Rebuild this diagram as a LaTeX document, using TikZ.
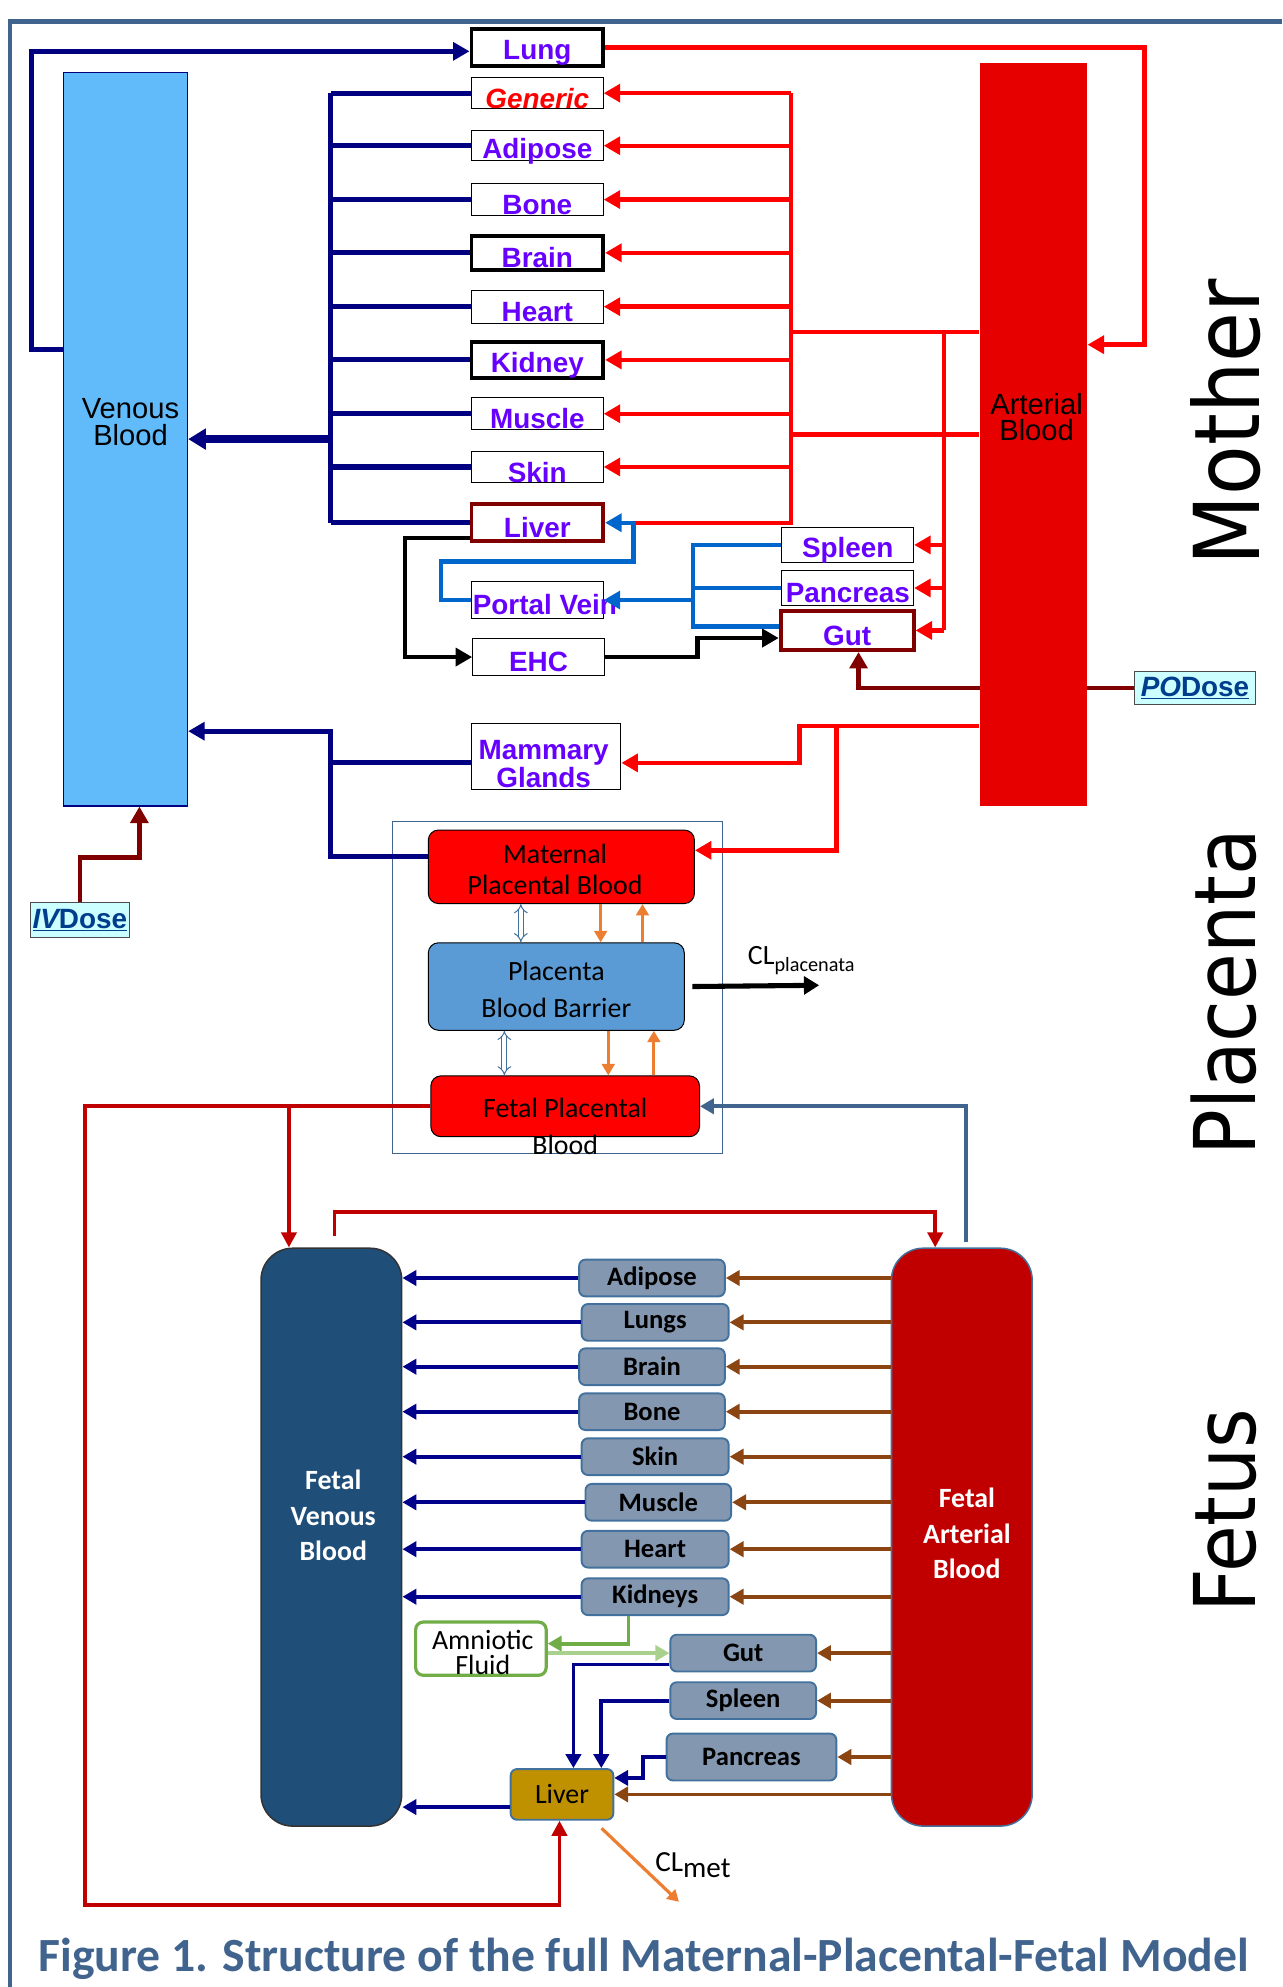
\documentclass[tikz,border=0pt]{standalone}
\usepackage{fontspec}
\setmainfont{Liberation Sans}
\newfontfamily\calibri{Carlito}
\newfontfamily\verdana{DejaVu Sans}
\usepackage{graphicx}
\usetikzlibrary{arrows.meta}
\usetikzlibrary{positioning}
\usetikzlibrary{backgrounds}
\definecolor{orgviolet}{RGB}{102,0,255}
\definecolor{veinblue}{RGB}{0,0,128}
\definecolor{artred}{RGB}{255,0,0}
\definecolor{artbox}{RGB}{230,0,0}
\definecolor{venbox}{RGB}{97,187,250}
\definecolor{portblue}{RGB}{0,102,204}
\definecolor{dosered}{RGB}{128,0,0}
\definecolor{dosecyan}{RGB}{204,255,255}
\definecolor{dosetext}{RGB}{0,61,140}
\definecolor{steel}{RGB}{65,100,143}
\definecolor{placred}{RGB}{255,0,0}
\definecolor{placblue}{RGB}{91,155,213}
\definecolor{flowor}{RGB}{237,125,49}
\definecolor{fvenous}{RGB}{31,78,121}
\definecolor{fartred}{RGB}{192,0,0}
\definecolor{fgray}{RGB}{132,151,176}
\definecolor{fborder}{RGB}{65,113,156}
\definecolor{fgold}{RGB}{191,144,0}
\definecolor{fnavy}{RGB}{0,0,139}
\definecolor{fbrown}{RGB}{139,69,19}
\definecolor{amgreen}{RGB}{112,173,71}
\definecolor{amlight}{RGB}{169,209,142}
% mother organ box: [options]{name}{position}{height}{text}
\newcommand\morgan[5][]{%
  \node[mnode,minimum height=#4pt,#1] (#2) at (#3) {\raisebox{-4pt}[\height][\depth]{#5}};
}
% fetal organ box: [options]{name}{position}{width}{text}
\newcommand\forgan[5][]{%
  \node[fnode,minimum width=#4pt,#1] (#2) at (#3) {#5};
}
% clearance label: {main}{lowered part}{size of lowered part}
\newcommand\cltext[3]{#1\raisebox{-5pt}{\fontsize{#3}{#3}\selectfont #2}}
\begin{document}
\begin{tikzpicture}[
x=1pt,y=-1pt,
>={Triangle[length=13pt,width=14pt]},
mnode/.style={draw=black,line width=0.8pt,fill=white,inner sep=0pt,
  minimum width=104pt,text=orgviolet,font=\bfseries\fontsize{22}{22}\selectfont},
heavy/.style={line width=3pt},
vein/.style={draw=veinblue,line width=4pt},
art/.style={draw=artred,line width=3.5pt},
portline/.style={draw=portblue,line width=3.5pt},
ehcline/.style={draw=black,line width=3.5pt},
doseline/.style={draw=dosered,line width=3.5pt},
dose/.style={draw=black!70,line width=0.8pt,fill=dosecyan,inner sep=0pt,
  text=dosetext,font=\bfseries\fontsize{22}{22}\selectfont},
pool/.style={inner sep=0pt,font=\fontsize{23}{21}\selectfont,align=center},
plac/.style={draw=black,line width=0.8pt,rounded corners=8pt,inner sep=0pt},
plactext/.style={inner sep=0pt,align=center,font=\calibri\fontsize{22}{24}\selectfont},
hollow/.style={draw=fborder,line width=0.8pt,double=white,double distance=3pt,
  {Implies[length=6pt]}-{Implies[length=6pt]}},
flow/.style={draw=flowor,line width=2.5pt,>={Triangle[length=9pt,width=10pt]}},
fnode/.style={draw=fborder,line width=1.5pt,fill=fgray,rounded corners=5pt,
  inner sep=0pt,minimum height=29pt,font=\calibri\bfseries\fontsize{21}{21}\selectfont},
fpool/.style={line width=1.2pt,rounded corners=25pt,minimum width=111pt,minimum height=456pt},
ftext/.style={inner sep=0pt,align=center,text=white,font=\calibri\bfseries\fontsize{22}{28}\selectfont},
fvein/.style={draw=fnavy,line width=3pt,>={Triangle[length=11pt,width=12pt]}},
fart/.style={draw=fbrown,line width=3pt,>={Triangle[length=11pt,width=12pt]}},
fred/.style={draw=fartred,line width=3pt,>={Triangle[length=12pt,width=12pt]}},
amline/.style={draw=amgreen,line width=3pt,>={Triangle[length=11pt,width=12pt]}},
cl/.style={inner sep=0pt,font=\calibri\fontsize{22}{22}\selectfont},
side/.style={inner sep=0pt,font=\verdana\fontsize{60}{60}\selectfont}
]
\useasboundingbox (0,0) rectangle (1012,1568);
\draw[steel,line width=3.5pt] (8,1568) -- (8,17) -- (1012,17);

% blood pools of the mother
\node[draw=veinblue,line width=1pt,fill=venbox,minimum width=98pt,minimum height=579pt] (venous) at (99,346.5) {};
\node[pool] (ventxt) at (103,333) {Venous\\Blood};
\node[fill=artbox,minimum width=85pt,minimum height=586pt] (arterial) at (815.5,343) {};
\node[pool] (arttxt) at (818,329) {Arterial\\Blood};

% mother organs
\morgan[heavy]{lung}{424,37.5}{29}{Lung}
\morgan[text=artred]{generic}{424,73.5}{25}{\itshape Generic}
\morgan{adipose}{424,115}{24}{Adipose}
\morgan{bone}{424,157.5}{25}{Bone}
\morgan[heavy]{brain}{424,199.5}{27}{Brain}
\morgan{heart}{424,242}{26}{Heart}
\morgan[heavy]{kidney}{424,284}{28}{Kidney}
\morgan{muscle}{424,326.5}{25}{Muscle}
\morgan{skin}{424,368.5}{25}{Skin}
\morgan[heavy,draw=dosered]{liver}{424,412.5}{29}{Liver}
\morgan{spleen}{669,430}{28}{Spleen}
\morgan{pancreas}{669,464}{28}{Pancreas}
\morgan[heavy,draw=dosered,minimum width=105pt]{gut}{668.5,497.5}{31}{Gut}
\morgan{portal}{424,473.5}{29}{}
\node[mnode,draw=none,fill=none,minimum width=0pt] (portaltxt) at (430,477) {Portal Vein};
\morgan{ehc}{425,518.5}{29}{EHC}
\node[mnode,minimum width=118pt,minimum height=52pt] (mammary) at (431,597) {};
\node[mnode,draw=none,fill=none,minimum width=0pt,align=center,font=\bfseries\fontsize{22}{20}\selectfont] (mamtxt) at (429,603) {Mammary\\Glands};

\node[dose,minimum width=96pt,minimum height=26pt] (podose) at (943,543) {\underline{\itshape PO}\underline{Dose}};
\node[dose,minimum width=78pt,minimum height=28pt] (ivdose) at (63,726) {\underline{\itshape IV}\underline{Dose}};

\coordinate (vspine) at (261,0);
\coordinate (rspine) at (624,0);
\coordinate (pvbus) at (547,0);
\coordinate (mamv) at (261,577);

% venous return
\foreach \o in {generic,adipose,bone,brain,heart,kidney,muscle,skin,liver}
  \draw[vein] (\o.west) -- (\o.west -| vspine);
\draw[vein] (generic.west -| vspine) -- (liver.west -| vspine);
\draw[vein,line width=6pt,->,>={Triangle[length=14pt,width=16pt]}] (vspine |- venous.east) -- (venous.east);
\draw[vein,->] (venous.west |- 0,276) -- (25,276) |- ([yshift=-3pt]lung.west);

% arterial supply
\draw[art,->] (lung.east) -- (903,37.5) |- (arterial.east |- 0,272);
\foreach \o in {generic,adipose,bone,brain,heart,kidney,muscle,skin}
  \draw[art,->] (\o.east -| rspine) -- (\o.east);
\draw[art] (generic.east -| rspine) -- (liver.east -| rspine) -- (liver.east -| 500,0);
\draw[art] (rspine |- 0,262) -- (arterial.west |- 0,262);
\draw[art] (rspine |- 0,343) -- (arterial.west |- 0,343);
\draw[art] (745,262) -- (745,497.5);
\foreach \o in {spleen,pancreas,gut}
  \draw[art,->] (\o.east -| 745,0) -- (\o.east);

% portal circulation
\draw[portline] (spleen.west) -- (spleen.west -| pvbus) -- ([yshift=3pt]gut.west -| pvbus) -- ([yshift=3pt]gut.west);
\draw[portline] (pancreas.west) -- (pancreas.west -| pvbus);
\draw[portline,->] (portal.east -| pvbus) -- (portal.east);
\draw[portline,->] (portal.west) -| (348,443) -- (500,443) |- (liver.east);

% enterohepatic cycle
\draw[ehcline,->] ([yshift=-12pt]liver.west) -- ++(-51,0) |- (ehc.west);
\draw[ehcline,->] (ehc.east) -- ++(73,0) |- ([yshift=-6pt]gut.west);

% doses
\begin{pgfonlayer}{background}
\draw[doseline,->] (podose.west) -| ([xshift=9pt]gut.south);
\end{pgfonlayer}
\draw[doseline,->] (ivdose.north) -- ++(0,-35) -| ([xshift=11pt]venous.south);

% placenta
\node[draw=steel,line width=1pt,minimum width=260pt,minimum height=262pt] (placframe) at (440,779) {};
\node[plac,fill=placred,minimum width=210pt,minimum height=58pt] (mpb) at (443,684) {};
\node[plactext] (mpbtxt) at (438,686) {Maternal\\Placental Blood};
\node[plac,fill=placblue,minimum width=202pt,minimum height=69pt] (pbb) at (439,778.5) {};
\node[plactext,font=\calibri\fontsize{22}{29}\selectfont] (pbbtxt) at (439,781) {Placenta\\Blood Barrier};
\node[plac,fill=placred,minimum width=212pt,minimum height=48pt] (fpb) at (446,873) {};
\node[plactext,font=\calibri\fontsize{22}{29}\selectfont] (fpbtxt) at (446,889) {Fetal Placental\\Blood};

\draw[hollow] (411,0 |- mpb.south) -- (411,0 |- pbb.north);
\draw[hollow] (398,0 |- pbb.south) -- (398,0 |- fpb.north);
\draw[flow,->] (474,0 |- mpb.south) -- (474,0 |- pbb.north);
\draw[flow,->] (507,0 |- pbb.north) -- (507,0 |- mpb.south);
\draw[flow,->] (480,0 |- pbb.south) -- (480,0 |- fpb.north);
\draw[flow,->] (516,0 |- fpb.north) -- (516,0 |- pbb.south);
\draw[line width=4pt,->,>={Triangle[length=12pt,width=14pt]}] ([xshift=6pt]pbb.east) -- ++(100,-1);
\node[cl,anchor=west] (clplac) at (590,758) {\cltext{CL}{placenata}{16}};

\draw[art,->] (arterial.west |- 0,573) -| (631,602) -- ([yshift=-5pt]mammary.east);
\draw[art,->] (660,573) |- ([yshift=13pt]mpb.east);
\draw[vein] ([yshift=-5pt]mammary.west) -- ([yshift=-5pt]mammary.west -| mamv);
\draw[vein,->] ([yshift=8pt]mpb.west) -| (mamv) -- (mamv -| venous.east);

% fetus
\node[fpool,fill=fvenous,draw=black!80] (fv) at (261.5,1213) {};
\node[ftext] (fvtxt) at (263,1196) {Fetal\\Venous\\Blood};
\node[fpool,fill=fartred,draw=fborder] (fa) at (759,1213) {};
\node[ftext] (fatxt) at (763,1210) {Fetal\\Arterial\\Blood};

\forgan{fadipose}{514.5,1008.5}{115}{Adipose}
\forgan{flungs}{517,1043.5}{116}{Lungs}
\forgan{fbrain}{514.5,1078.5}{115}{Brain}
\forgan{fbone}{514.5,1114}{115}{Bone}
\forgan{fskin}{517,1149.5}{116}{Skin}
\forgan{fmuscle}{519.5,1185.5}{115}{Muscle}
\forgan{fheart}{517,1222.5}{116}{Heart}
\forgan{fkidneys}{517,1260}{116}{Kidneys}
\forgan{fgut}{586.5,1304.5}{115}{Gut}
\forgan{fspleen}{586.5,1342}{115}{Spleen}
\forgan[minimum height=37pt]{fpancreas}{593,1386.5}{134}{Pancreas}
\forgan[fill=fgold,minimum height=40pt,font=\calibri\fontsize{22}{22}\selectfont]{fliver}{443.5,1416}{81}{Liver}
\node[draw=amgreen,line width=2.5pt,fill=white,rounded corners=6pt,minimum width=103pt,minimum height=42pt] (amniotic) at (379.5,1301) {};
\node[plactext,font=\calibri\fontsize{22}{19}\selectfont] (amtxt) at (381,1304) {Amniotic\\Fluid};

\foreach \o in {fadipose,flungs,fbrain,fbone,fskin,fmuscle,fheart,fkidneys}
  \draw[fvein,->] (\o.west) -- (\o.west -| fv.east);
\foreach \o in {fadipose,flungs,fbrain,fbone,fskin,fmuscle,fheart,fkidneys,fgut,fspleen,fpancreas,fliver}
  \draw[fart,->] (fa.west |- \o.east) -- (\o.east);

\draw[amline,->] ([xshift=-21pt]fkidneys.south) |- ([yshift=4pt]amniotic.east);
\draw[amline,draw=amlight,line width=3.5pt,->] (amniotic.east |- fgut.west) -- (fgut.west);
\draw[fvein,->] ([yshift=-9pt]fgut.west) -| ([xshift=9pt]fliver.north);
\draw[fvein,->] (fspleen.west) -| ([xshift=31pt]fliver.north);
\draw[fvein,->] (fpancreas.west) -- ++(-18,0) |- ([yshift=13pt]fliver.east);
\draw[fvein,->] ([yshift=-10pt]fliver.west) -- ([yshift=-10pt]fliver.west -| fv.east);

\draw[fred,->] (fpb.west) -| (67,1503) -| ([xshift=-2pt]fliver.south);
\draw[fred,->] (228,0 |- fpb.west) -- (228,0 |- fv.north);
\draw[fred,->] ([xshift=2.5pt,yshift=9pt]fv.north) |- ([xshift=-21pt,yshift=28pt]fa.north) -- ([xshift=-21pt]fa.north);
\draw[fvein,draw=steel,->] ([xshift=3pt,yshift=4pt]fa.north) |- (fpb.east);

\draw[flow,->] ([xshift=-10pt,yshift=-6pt]fliver.south east) -- ++(61,58);
\node[cl,anchor=west,font=\calibri\fontsize{23}{23}\selectfont] (clmet) at (517,1472) {\cltext{CL}{met}{23}};

% region labels
\node[side,rotate=90] (mother) at (967,333) {\scalebox{1}[1.12]{\fontsize{64}{64}\selectfont Mother}};
\node[side,rotate=90] (placenta) at (966,783) {\scalebox{1}[1.12]{Placenta}};
\node[side,rotate=90] (fetus) at (967,1192) {\scalebox{1}[1.12]{Fetus}};

\node[inner sep=0pt,text=steel,font=\calibri\bfseries\fontsize{30}{30}\selectfont] (caption) at (508,1546)
  {\resizebox{955pt}{!}{Figure 1. Structure of the full Maternal-Placental-Fetal Model}};
\end{tikzpicture}
\end{document}
